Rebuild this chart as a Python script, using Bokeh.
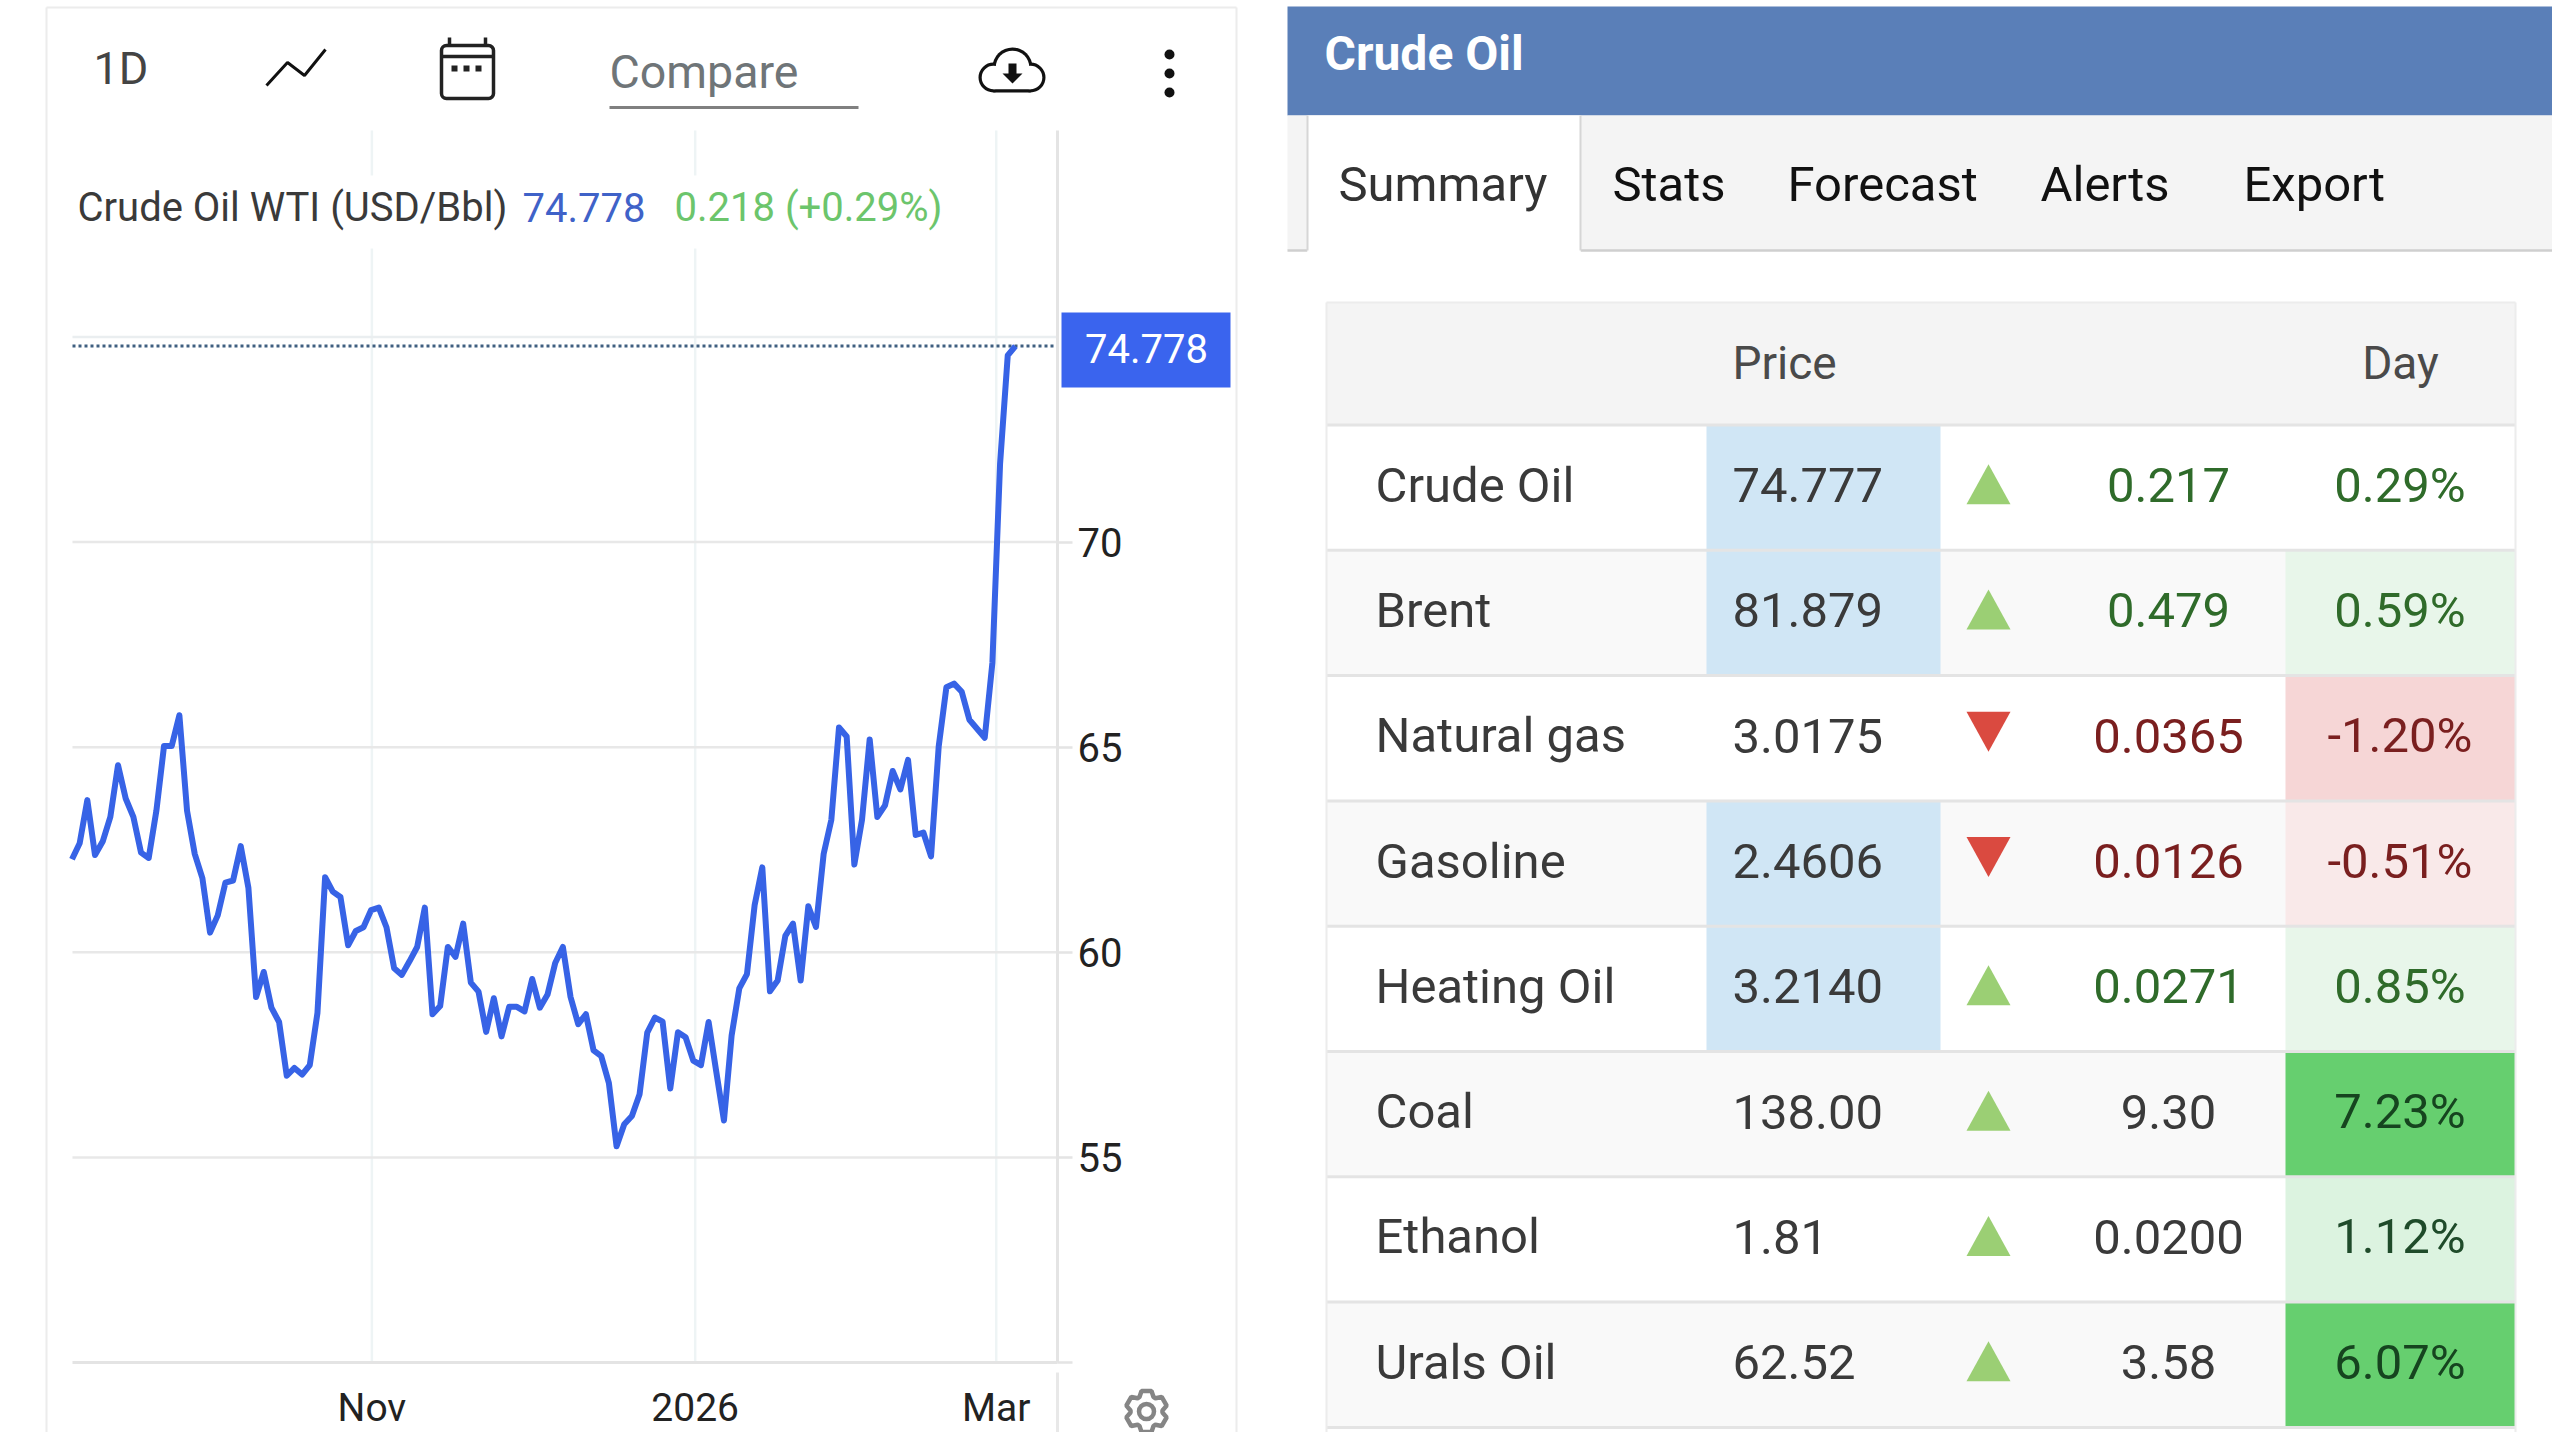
import math
from bokeh.core.properties import value
from bokeh.embed import file_html
from bokeh.models import FixedTicker, LinearAxis, Range1d
from bokeh.plotting import figure
from bokeh.resources import INLINE

# ---------- data ----------
closes = [
    62.27, 62.66, 63.71, 62.37, 62.70, 63.30, 64.56, 63.75, 63.30, 62.43,
    62.30, 63.45, 65.03, 65.03, 65.78, 63.45, 62.40, 61.81, 60.48, 60.90,
    61.70, 61.75, 62.59, 61.57, 58.91, 59.52, 58.65, 58.30, 56.99, 57.18,
    57.02, 57.25, 58.52, 61.83, 61.48, 61.35, 60.17, 60.52, 60.61, 61.03,
    61.09, 60.61, 59.61, 59.45, 59.78, 60.13, 61.09, 58.49, 58.69, 60.13,
    59.89, 60.70, 59.26, 59.04, 58.06, 58.88, 57.95, 58.67, 58.67, 58.56,
    59.35, 58.65, 58.97, 59.74, 60.13, 58.91, 58.25, 58.49, 57.61, 57.47,
    56.81, 55.27, 55.81, 56.01, 56.54, 58.04, 58.41, 58.31, 56.68, 58.05,
    57.93, 57.36, 57.25, 58.30, 57.09, 55.90, 57.97, 59.12, 59.47, 61.15,
    62.07, 59.05, 59.31, 60.40, 60.70, 59.31, 61.12, 60.62, 62.40, 63.23,
    65.48, 65.26, 62.14, 63.23, 65.19, 63.30, 63.58, 64.42, 63.97, 64.69,
    62.86, 62.92, 62.34, 65.02, 66.46, 66.55, 66.35, 65.67, 65.45, 65.23,
    67.06, 71.91, 74.55, 74.778,
]
x_tick_positions = [39.1, 81.25, 120.5]
x_tick_labels = ["Nov", "2026", "Mar"]
y_ticks = [50, 55, 60, 65, 70]
y_tick_labels = ["", "55", "60", "65", "70"]
y_grid_levels = [55, 60, 65, 70]
top_grid_level = 75
last_price = 74.778
series_name = "Crude Oil WTI (USD/Bbl)"
last_text = "74.778"
change_text = "0.218 (+0.29%)"

panel_title = "Crude Oil"
tabs = ["Summary", "Stats", "Forecast", "Alerts", "Export"]
table_headers = ["Price", "Day"]
names = ["Crude Oil", "Brent", "Natural gas", "Gasoline", "Heating Oil", "Coal", "Ethanol", "Urals Oil"]
prices = ["74.777", "81.879", "3.0175", "2.4606", "3.2140", "138.00", "1.81", "62.52"]
directions = ["up", "up", "down", "down", "up", "up", "up", "up"]
changes = ["0.217", "0.479", "0.0365", "0.0126", "0.0271", "9.30", "0.0200", "3.58"]
day_pcts = ["0.29%", "0.59%", "-1.20%", "-0.51%", "0.85%", "7.23%", "1.12%", "6.07%"]
price_fresh = [True, True, False, True, True, False, False, False]

# ---------- styles and layout (picture pixels) ----------
FONT = value("Roboto")
LINE = "#3763e6"
INK = "#3a3a3a"
GRID_H = "#e8e8e8"
GRID_V = "#eef4f5"
CARD = "#ececec"
GREEN_TXT = "#2f6b2a"
RED_TXT = "#7a1f1f"
W, H = 2552, 1432
F_L, F_R, F_T, F_B = 72, 1057, 130, 1362      # chart frame
X0_PX, X_STEP = 71.5, 7.67                     # first sample, px per sample
Y50_PX, Y_UNIT = 1362, 41.02                   # price 50 position, px per price unit


def idx(px):
    return (px - X0_PX) / X_STEP


def price(py):
    return 50 + (Y50_PX - py) / Y_UNIT


p = figure(width=W, height=H, x_range=Range1d(0, W), y_range=Range1d(H, 0),
           x_axis_type=None, y_axis_type=None, output_backend="svg", toolbar_location=None, min_border=0)
p.outline_line_color = None
p.grid.visible = False
p.extra_x_ranges["idx"] = Range1d(idx(0), idx(W))
p.extra_y_ranges["price"] = Range1d(price(H), price(0))
SCALE = dict(x_range_name="idx", y_range_name="price")
idx_l, idx_r = idx(F_L), idx(F_R)
pr_b, pr_t = price(F_B), price(F_T)


def txt(x, y, s, size, color, align="left", style="normal"):
    p.text(x, y, text=s, text_font=FONT, text_font_size=size, text_color=color, text_baseline="middle",
           text_align=align, text_font_style=style)


# ---------- card ----------
p.segment([46, 46, 1236], [7, 7, 7], [1236, 46, 1236], [7, 1432, 1432], line_color=CARD, line_width=2)

# ---------- toolbar ----------
txt([93], [68], ["1D"], "45px", "#444444")
p.line([266, 287, 304, 325], [85, 62, 75, 49], line_color="#111111", line_width=3)
p.quad(left=[441], right=[493], top=[45], bottom=[98], fill_color="white", line_color="#222222",
       line_width=3.5, border_radius=5)
p.segment([441, 449, 485], [56, 37, 37], [493, 449, 485], [56, 45, 45], line_color="#222222", line_width=3.5)
p.scatter([454, 466, 478], [68, 68, 68], marker="square", size=6, fill_color="#222222", line_color=None)
txt([609], [71], ["Compare"], "46.5px", "#6f7578")
p.line([609, 858], [107, 107], line_color="#808080", line_width=3)
for pad, colr in ((0, "#111111"), (3.2, "white")):
    p.scatter([1012, 993, 1030], [67, 77, 77], size=[40 - 2 * pad, 30 - 2 * pad, 30 - 2 * pad],
              fill_color=colr, line_color=None)
    p.quad(left=[993], right=[1030], top=[70 + pad], bottom=[92 - pad], fill_color=colr, line_color=None)
p.segment([1012], [63], [1012], [74], line_color="#111111", line_width=8)
p.patch([1002, 1022, 1012], [73, 73, 83], fill_color="#111111", line_color=None)
p.scatter([1169, 1169, 1169], [54, 73, 92], size=10, fill_color="#111111", line_color=None)

# ---------- chart ----------
p.segment(x_tick_positions, [pr_b] * 3, x_tick_positions, [pr_t] * 3, line_color=GRID_V, line_width=2.5, **SCALE)
p.segment([idx_l] * len(y_grid_levels), y_grid_levels, [idx_r] * len(y_grid_levels), y_grid_levels,
          line_color=GRID_H, line_width=2.5, **SCALE)
p.line([idx_l, idx_r], [top_grid_level, top_grid_level], line_color="#eaeef0", line_width=2.5, **SCALE)
p.quad(left=[F_L - 8], right=[985], top=[175], bottom=[248], fill_color="white", line_color=None)
p.line([idx_l, idx_r], [last_price, last_price], line_color="#3f5f80", line_width=3, line_dash=[3, 3], **SCALE)
p.line(list(range(len(closes))), closes, line_color=LINE, line_width=6, line_join="round", **SCALE)

xax = LinearAxis(x_range_name="idx", fixed_location=F_B, bounds=(idx_l, idx_r),
                 ticker=FixedTicker(ticks=x_tick_positions),
                 major_label_overrides=dict(zip(x_tick_positions, x_tick_labels)))
yax = LinearAxis(y_range_name="price", fixed_location=F_R, bounds=(pr_b, pr_t),
                 ticker=FixedTicker(ticks=y_ticks),
                 major_label_overrides=dict(zip(y_ticks, y_tick_labels)))
for ax in (xax, yax):
    ax.axis_line_color = "#e4e4e4"
    ax.axis_line_width = 3
    ax.major_label_text_font = "Roboto"
    ax.major_label_text_color = "#222222"
    ax.major_tick_in = 0
    ax.minor_tick_line_color = None
xax.major_tick_line_color = None
yax.major_tick_line_color = "#e4e4e4"
yax.major_tick_line_width = 2.5
yax.major_tick_out = 15
xax.major_label_text_font_size = "39px"
yax.major_label_text_font_size = "40px"
xax.major_label_standoff = 16
yax.major_label_standoff = 5
p.add_layout(xax, "below")
p.add_layout(yax, "right")

p.segment([F_R], [1372], [F_R], [1432], line_color="#e8e8e8", line_width=3)
p.quad(left=[1061], right=[1230], top=[312], bottom=[387], fill_color="#3a64ee", line_color=None)
txt([1146], [348], [last_text], "40px", "white", "center")
txt([77], [207], [series_name], "40px", INK)
txt([522], [207], [last_text], "40px", "#3f62c8")
txt([674], [207], [change_text], "40px", "#6cc56c")

# gear icon
gx, gy, n = 1146, 1411, 6
g_xs, g_ys = [], []
for k in range(n):
    base = 2 * math.pi * k / n
    for da, r in ((-0.46, 16), (-0.24, 21), (0.24, 21), (0.46, 16)):
        g_xs.append(gx + r * math.sin(base + da))
        g_ys.append(gy - r * math.cos(base + da))
p.patch(g_xs, g_ys, fill_color="white", line_color="#858585", line_width=4.5)
p.scatter([gx], [gy], size=15, fill_color="white", line_color="#858585", line_width=4.5)

# ---------- right panel ----------
p.quad(left=[1287], right=[2552], top=[6], bottom=[115], fill_color="#5a7fb8", line_color=None)
txt([1324], [53], [panel_title], "48px", "white", style="bold")
p.quad(left=[1287], right=[2552], top=[115], bottom=[250], fill_color="#f4f4f4", line_color=None)
p.segment([1287, 1580], [250, 250], [1307, 2552], [250, 250], line_color="#cfcfcf", line_width=2.5)
p.quad(left=[1307], right=[1580], top=[115], bottom=[252], fill_color="white", line_color=None)
p.segment([1307, 1580], [115, 115], [1307, 1580], [250, 250], line_color="#d6d6d6", line_width=2)
tab_x = [1338, 1612, 1787, 2040, 2243]
txt(tab_x, [183.5] * len(tabs), tabs, "49px", ["#333333"] + ["#111111"] * 4)

T_L, T_R = 1326, 2515
HEAD_T, ROW_T, ROW_H = 302, 424.5, 125.3
P_L, P_R, D_L = 1706, 1940, 2285
n_rows = len(names)
tops = [ROW_T + i * ROW_H for i in range(n_rows)]
bots = [t + ROW_H for t in tops]
mids = [t + ROW_H / 2 - 2.5 for t in tops]

p.quad(left=[T_L], right=[T_R], top=[HEAD_T], bottom=[ROW_T], fill_color="#f4f4f4", line_color=None)
txt([1732, 2400], [362, 362], table_headers, "46px", "#4a4a4a", ["left", "center"])
p.quad(left=T_L, right=T_R, top=tops, bottom=bots,
       fill_color=["white" if i % 2 == 0 else "#f9f9f9" for i in range(n_rows)], line_color=None)
fresh = [i for i in range(n_rows) if price_fresh[i]]
p.quad(left=P_L, right=P_R, top=[tops[i] for i in fresh], bottom=[bots[i] for i in fresh],
       fill_color="#d0e6f5", line_color=None)


def day_fill(text):
    v = float(text.rstrip("%"))
    if v <= -1:
        return "#f6d6d6"
    if v < 0:
        return "#f9e9e9"
    if v >= 5:
        return "#66cf6f"
    if v >= 1:
        return "#dcf3e0"
    if v >= 0.5:
        return "#e8f6ea"
    return None


colored = [(i, day_fill(day_pcts[i])) for i in range(n_rows) if day_fill(day_pcts[i])]
p.quad(left=D_L, right=T_R, top=[tops[i] for i, _ in colored], bottom=[bots[i] for i, _ in colored],
       fill_color=[c for _, c in colored], line_color=None)
p.segment([T_L] * (n_rows + 1), [ROW_T] + bots, [T_R] * (n_rows + 1), [ROW_T] + bots,
          line_color="#e4e4e4", line_width=3)
p.segment([T_L, T_R, T_L], [HEAD_T] * 3, [T_L, T_R, T_R], [1432, 1432, HEAD_T], line_color="#ececec", line_width=2)

TXT = "49px"
change_colors = []
day_colors = []
for i in range(n_rows):
    v = float(day_pcts[i].rstrip("%"))
    if directions[i] == "down":
        change_colors.append(RED_TXT)
        day_colors.append(RED_TXT)
    else:
        change_colors.append(GREEN_TXT if price_fresh[i] else "#3a3a3a")
        day_colors.append("#16441f" if v >= 5 else "#1f4b2a" if v >= 1 else GREEN_TXT)

txt([1375] * n_rows, mids, names, TXT, INK)
txt([1732] * n_rows, mids, prices, TXT, INK)
txt([2168] * n_rows, mids, changes, TXT, change_colors, "center")
txt([2399.5] * n_rows, mids, day_pcts, TXT, day_colors, "center")

up = [i for i in range(n_rows) if directions[i] == "up"]
down = [i for i in range(n_rows) if directions[i] == "down"]
p.patches([[1966, 2010, 1988] for _ in up], [[mids[i] + 19, mids[i] + 19, mids[i] - 21] for i in up],
          fill_color="#9bcf74", line_color=None)
p.patches([[1966, 2010, 1988] for _ in down], [[mids[i] - 24, mids[i] - 24, mids[i] + 16] for i in down],
          fill_color="#da4a40", line_color=None)

open("out.html", "w").write(file_html(p, INLINE))
